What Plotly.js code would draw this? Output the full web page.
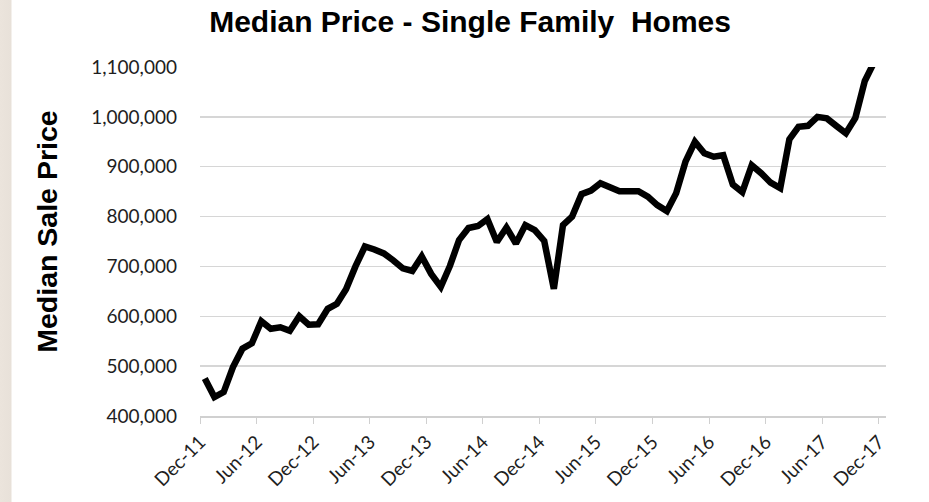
<!DOCTYPE html>
<html>
<head>
<meta charset="utf-8">
<script src="https://cdn.plot.ly/plotly-3.0.1.min.js"></script>
<style>
  html, body { margin: 0; padding: 0; }
  body { width: 929px; height: 502px; overflow: hidden;
         background: linear-gradient(to right, #ebe4dc 0px, #e8e1d9 11px, #ffffff 12px); }
  #chart { width: 929px; height: 502px; }
</style>
</head>
<body>
<div id="chart"></div>
<script>
// Monthly series: Dec-2011 .. Nov-2017
const firstMonth = { year: 2011, month: 12 };
const monthCount = 72;
const months = [];
for (let i = 0; i < monthCount; i++) {
  const m0 = firstMonth.month - 1 + i;
  const y = firstMonth.year + Math.floor(m0 / 12);
  const m = (m0 % 12) + 1;
  months.push(y + "-" + (m < 10 ? "0" + m : m));
}

const medianPrice = [
  475000, 438000, 448000, 498000, 535000, 546000, 590000, 575000, 578000, 571000,
  600000, 583000, 584000, 615000, 625000, 654000, 700000, 740000, 734000, 726000,
  712000, 696000, 691000, 720000, 685000, 659000, 701000, 753000, 777000, 781000,
  795000, 749000, 778000, 746000, 783000, 773000, 751000, 655000, 783000, 800000,
  845000, 852000, 867000, 860000, 851000, 851000, 851000, 840000, 823000, 811000,
  847000, 910000, 950000, 927000, 920000, 923000, 864000, 849000, 903000, 887000,
  868000, 857000, 955000, 980000, 982000, 1000000, 997000, 982000, 967000, 998000,
  1072000, 1110000
];

const chartTitle = "Median Price - Single Family  Homes";
const yTitle = "Median Sale Price";

const trace = {
  type: "scatter",
  mode: "lines",
  x: months,
  y: medianPrice,
  xperiod: "M1",
  xperiodalignment: "middle",
  line: { color: "#000000", width: 6.5 },
  hoverinfo: "x+y"
};

const layout = {
  width: 929,
  height: 502,
  margin: { l: 200, r: 43, t: 67, b: 86 },
  paper_bgcolor: "rgba(0,0,0,0)",
  plot_bgcolor: "#ffffff",
  showlegend: false,
  title: {
    text: chartTitle,
    font: { family: "Liberation Sans, Arial, sans-serif", size: 30, color: "#000000", weight: "bold" },
    x: 0.506, xref: "container", xanchor: "center",
    y: 0.957, yref: "container", yanchor: "middle"
  },
  annotations: [{
    text: yTitle,
    xref: "paper", yref: "paper",
    x: -0.223, y: 0.528,
    xanchor: "center", yanchor: "middle",
    textangle: -90,
    showarrow: false,
    font: { family: "Liberation Sans, Arial, sans-serif", size: 28.5, color: "#000000", weight: "bold" }
  }],
  xaxis: {
    type: "date",
    range: ["2011-12-01", "2017-12-24"],
    tickmode: "linear",
    tick0: "2011-12-01",
    dtick: "M6",
    tickformat: "%b-%y",
    tickangle: -45,
    ticks: "outside",
    ticklen: 6,
    tickcolor: "#d0d0d0",
    showline: true,
    linecolor: "#d0d0d0",
    linewidth: 1.5,
    showgrid: false,
    zeroline: false,
    tickfont: { family: "Lato, Carlito, Calibri, sans-serif", size: 19, color: "#1e1e1e" }
  },
  yaxis: {
    range: [400000, 1100000],
    tickmode: "linear",
    tick0: 400000,
    dtick: 100000,
    tickformat: ",d",
    showgrid: true,
    gridcolor: "#d6d6d6",
    gridwidth: 1.5,
    zeroline: false,
    showline: false,
    ticks: "",
    ticklabelstandoff: 22,
    tickfont: { family: "Lato, Carlito, Calibri, sans-serif", size: 19, color: "#1e1e1e" }
  }
};

Plotly.newPlot("chart", [trace], layout, { displayModeBar: false, staticPlot: true });
</script>
</body>
</html>
